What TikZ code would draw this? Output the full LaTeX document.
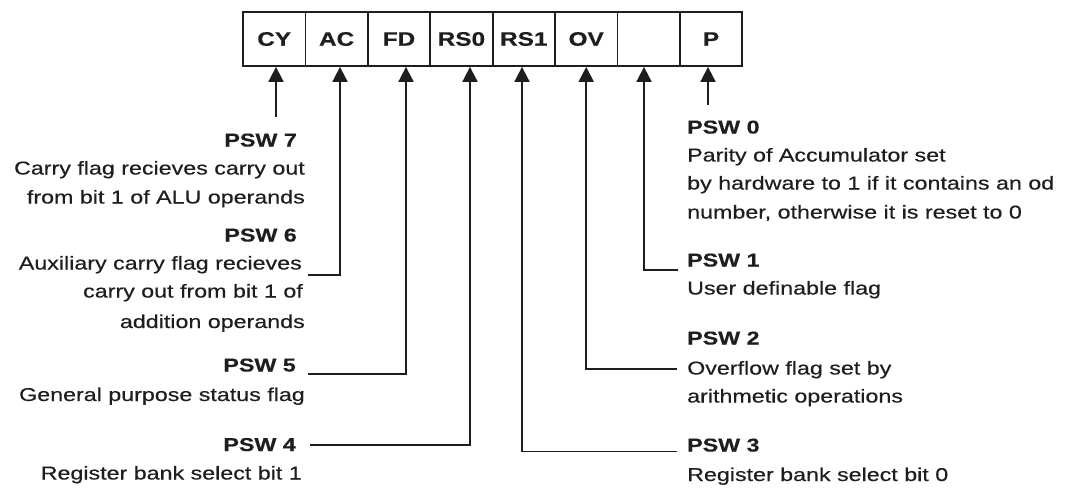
\documentclass[tikz,border=0pt]{standalone}
\usepackage{fontspec}
\setmainfont{Liberation Sans}[FakeStretch=1.25,FakeBold=0.4]
\usetikzlibrary{arrows.meta}
\definecolor{ink}{HTML}{1E1E1E}
\begin{document}
\begin{tikzpicture}[x=1pt,y=-1pt,
  every node/.style={inner sep=0pt, text=ink, font=\fontsize{18.6}{28.5}\selectfont},
  cell/.style={draw=ink, line width=1.8pt, minimum width=62.4pt, minimum height=54pt, font=\bfseries\fontsize{19.5}{22}\selectfont},
  head/.style={font=\bfseries\fontsize{18.6}{22}\selectfont},
  lt/.style={anchor=base east},
  rt/.style={anchor=base west},
  arr/.style={draw=ink, line width=1.8pt, -{Triangle[width=15pt,length=15pt]}}]
\fill[white] (0,0) rectangle (1070,488);
\path[use as bounding box] (0,0) rectangle (1070,488);
% register cells
\node[cell] (cy)  at (274.2,39) {CY};
\node[cell] (ac)  at (336.6,39) {AC};
\node[cell] (fd)  at (399.0,39) {FD};
\node[cell] (rsz) at (461.4,39) {RS0};
\node[cell] (rso) at (523.8,39) {RS1};
\node[cell] (ov)  at (586.2,39) {OV};
\node[cell] (bl)  at (648.6,39) {};
\node[cell] (p)   at (711.0,39) {P};
% left descriptions
\node[head,lt] (h7) at (297,146.5) {PSW 7};
\node[lt] (d7a) at (305,174.5) {Carry flag recieves carry out};
\node[lt] (d7b) at (305,203.5) {from bit 1 of ALU operands};
\node[head,lt] (h6) at (297,241.5) {PSW 6};
\node[lt] (d6a) at (302,269.5) {Auxiliary carry flag recieves};
\node[lt] (d6b) at (303,297.5) {carry out from bit 1 of};
\node[lt] (d6c) at (305,328) {addition operands};
\node[head,lt] (h5) at (296,371.5) {PSW 5};
\node[lt] (d5) at (305,401) {General purpose status flag};
\node[head,lt] (h4) at (296,451) {PSW 4};
\node[lt] (d4) at (302,479.5) {Register bank select bit 1};
% right descriptions
\node[head,rt] (h0) at (687,133.5) {PSW 0};
\node[rt] (d0a) at (687,161.5) {Parity of Accumulator set};
\node[rt] (d0b) at (687,189.5) {by hardware to 1 if it contains an od};
\node[rt] (d0c) at (687,218.5) {number, otherwise it is reset to 0};
\node[head,rt] (h1) at (687,266.5) {PSW 1};
\node[rt] (d1) at (687,294.5) {User definable flag};
\node[head,rt] (h2) at (687,344.5) {PSW 2};
\node[rt] (d2a) at (687,374.5) {Overflow flag set by};
\node[rt] (d2b) at (687,402.5) {arithmetic operations};
\node[head,rt] (h3) at (687,451.5) {PSW 3};
\node[rt] (d3) at (687,481) {Register bank select bit 0};
% connectors
\coordinate (e7) at (276,117);
\draw[arr] (e7) -- (e7 |- cy.south);
\draw[arr] ([xshift=6pt,yshift=-5.5pt]d6a.base east) -| ([xshift=3.4pt]ac.south);
\draw[arr] ([xshift=12pt,yshift=-2.5pt]h5.base east) -| ([xshift=7pt]fd.south);
\draw[arr] ([xshift=14pt]h4.east) -| ([xshift=8.6pt]rsz.south);
\draw[arr] ([xshift=-10pt]h3.base west) -| ([xshift=-1.8pt]rso.south);
\draw[arr] ([xshift=-10pt,yshift=5.5pt]d2a.base west) -| (ov.south);
\draw[arr] ([xshift=-9pt,yshift=-3.5pt]h1.base west) -| ([xshift=-4.6pt]bl.south);
\coordinate (e0) at (708,105);
\draw[arr] (e0) -- (e0 |- p.south);
\end{tikzpicture}
\end{document}
